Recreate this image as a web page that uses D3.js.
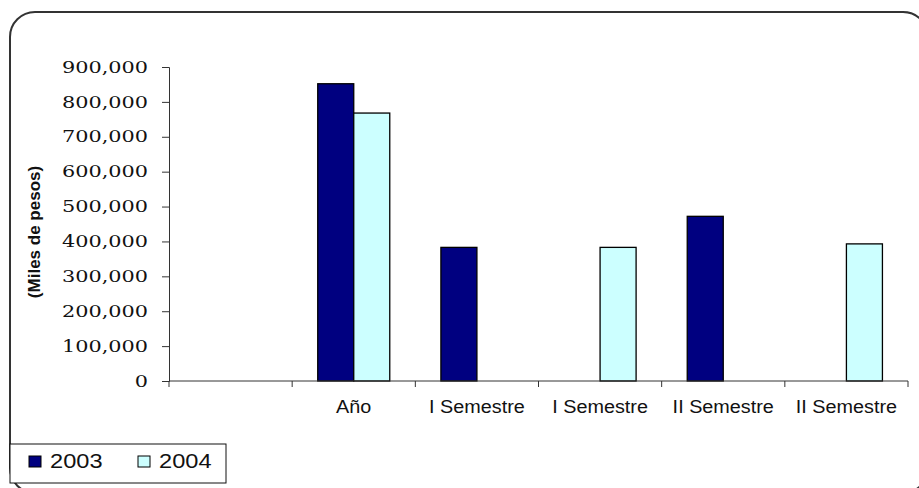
<!DOCTYPE html>
<html>
<head>
<meta charset="utf-8">
<script src="https://cdn.jsdelivr.net/npm/d3@7"></script>
<style>
  body { margin: 0; background: #fff; }
</style>
</head>
<body>
<svg id="chart"></svg>
<script>
// data

var categories = ["", "Año", "I Semestre", "I Semestre", "II Semestre", "II Semestre"];
var seriesNames = ["2003", "2004"];
var values2003 = [null, 852000, 383000, null, 472000, null];
var values2004 = [null, 768000, null, 383000, null, 393000];
var yTicks = [0, 100000, 200000, 300000, 400000, 500000, 600000, 700000, 800000, 900000];
var colors = ["#000080", "#ccffff"];

// settings

var svgWidth = 919;
var svgHeight = 488;
var plotLeft = 169, plotRight = 908, plotTop = 67, plotBottom = 381;

var svg = d3.select('#chart')
    .attr('width', svgWidth)
    .attr('height', svgHeight);

// stretch text horizontally, the picture is a bit wide
function stretch(sel, factor) {
    sel.each(function() {
        var w = this.getComputedTextLength();
        d3.select(this)
            .attr('textLength', w * factor)
            .attr('lengthAdjust', 'spacingAndGlyphs');
    });
}

// outer rounded frame (runs off the right and bottom edge)
svg.append('rect')
    .attr('x', 10)
    .attr('y', 12)
    .attr('width', 918)
    .attr('height', 481)
    .attr('rx', 25)
    .attr('fill', 'none')
    .attr('stroke', '#333')
    .attr('stroke-width', 2);

// scales

var x = d3.scaleBand()
    .domain(d3.range(categories.length))
    .range([plotLeft, plotRight])
    .paddingInner(0)
    .paddingOuter(0);

var xInner = d3.scaleBand()
    .domain(seriesNames)
    .range([0, x.bandwidth()])
    .paddingInner(0)
    .paddingOuter(0.71);

var y = d3.scaleLinear()
    .domain([0, 900000])
    .range([plotBottom, plotTop]);

// bars

var rows = [];
categories.forEach(function(c, i) {
    rows.push({ i: i, s: "2003", v: values2003[i], c: colors[0] });
    rows.push({ i: i, s: "2004", v: values2004[i], c: colors[1] });
});

svg.selectAll('rect.bar')
    .data(rows.filter(function(d) { return d.v != null; }))
    .enter()
    .append('rect')
    .attr('class', 'bar')
    .attr('x', function(d) { return x(d.i) + xInner(d.s); })
    .attr('y', function(d) { return y(d.v); })
    .attr('width', xInner.bandwidth())
    .attr('height', function(d) { return plotBottom - y(d.v); })
    .attr('fill', function(d) { return d.c; })
    .attr('stroke', '#000')
    .attr('stroke-width', 1.3);

// y axis

var yAxis = svg.append('g')
    .attr('transform', 'translate(' + plotLeft + ',0)')
    .call(d3.axisLeft(y).tickValues(yTicks).tickFormat(d3.format(',')).tickSize(7).tickPadding(14));

yAxis.select('.domain').attr('stroke', '#333');
yAxis.selectAll('.tick line').attr('stroke', '#333');
yAxis.selectAll('text')
    .attr('font-family', 'DejaVu Serif')
    .attr('font-size', 16)
    .attr('fill', '#111');
stretch(yAxis.selectAll('text'), 1.3);

// x axis, ticks on the category edges

var xAxis = svg.append('g')
    .attr('transform', 'translate(0,' + plotBottom + ')');

xAxis.append('line')
    .attr('x1', plotLeft).attr('x2', plotRight)
    .attr('stroke', '#333');

xAxis.selectAll('line.tk')
    .data(d3.range(categories.length + 1))
    .enter()
    .append('line')
    .attr('class', 'tk')
    .attr('x1', function(i) { return i < categories.length ? x(i) : plotRight; })
    .attr('x2', function(i) { return i < categories.length ? x(i) : plotRight; })
    .attr('y1', 0)
    .attr('y2', 6)
    .attr('stroke', '#333');

var xLabels = xAxis.selectAll('text')
    .data(categories)
    .enter()
    .append('text')
    .attr('x', function(d, i) { return x(i) + x.bandwidth() / 2; })
    .attr('y', 32)
    .attr('text-anchor', 'middle')
    .attr('font-family', 'Liberation Sans, Arial')
    .attr('font-size', 18)
    .attr('fill', '#111')
    .text(function(d) { return d; });
stretch(xLabels.filter(function(d) { return d !== ""; }), 1.1);

// y axis title

svg.append('text')
    .attr('transform', 'translate(40,232) rotate(-90)')
    .attr('text-anchor', 'middle')
    .attr('font-family', 'Liberation Sans, Arial')
    .attr('font-weight', 'bold')
    .attr('font-size', 17)
    .attr('fill', '#111')
    .text('(Miles de pesos)');

// legend

var legend = svg.append('g');

legend.append('rect')
    .attr('x', 10)
    .attr('y', 444)
    .attr('width', 216)
    .attr('height', 39)
    .attr('fill', '#fff')
    .attr('stroke', '#111')
    .attr('stroke-width', 1);

var items = legend.selectAll('g.item')
    .data(seriesNames)
    .enter()
    .append('g')
    .attr('class', 'item')
    .attr('transform', function(d, i) { return 'translate(' + (29 + i * 109) + ',0)'; });

items.append('rect')
    .attr('x', 0)
    .attr('y', 456)
    .attr('width', 12)
    .attr('height', 11)
    .attr('fill', function(d, i) { return colors[i]; })
    .attr('stroke', '#000')
    .attr('stroke-width', 1);

var legendText = items.append('text')
    .attr('x', 21)
    .attr('y', 468)
    .attr('font-family', 'Liberation Sans, Arial')
    .attr('font-size', 20)
    .attr('fill', '#111')
    .text(function(d) { return d; });
stretch(legendText, 1.18);
</script>
</body>
</html>
